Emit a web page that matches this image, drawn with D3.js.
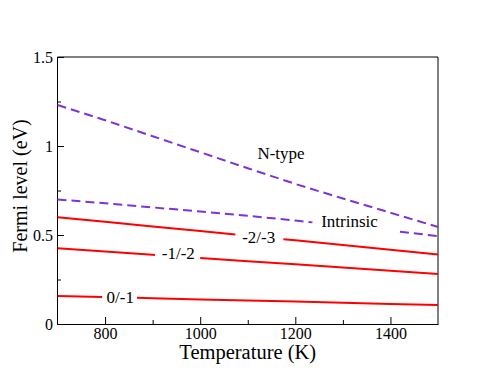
<!DOCTYPE html>
<html>
<head>
<meta charset="utf-8">
<script src="https://cdn.jsdelivr.net/npm/d3@7"></script>
<style>
  body { margin: 0; background: #fff; }
  svg text { font-family: "Liberation Serif", "Times New Roman", serif; fill: #000; }
</style>
</head>
<body>
<svg id="chart" width="494" height="382"></svg>
<script>
var temps = [700, 800, 900, 1000, 1100, 1200, 1300, 1400, 1500];

// Fermi level (eV)
var nType     = [1.23, 1.145, 1.055, 0.965, 0.875, 0.787, 0.705, 0.625, 0.545];
var intrinsic = [0.70, 0.678, 0.655, 0.632, 0.608, 0.581, 0.553, 0.524, 0.494];
// transition levels
var level23 = [0.600, 0.574, 0.548, 0.522, 0.496, 0.470, 0.444, 0.417, 0.390];
var level12 = [0.425, 0.407, 0.389, 0.371, 0.353, 0.335, 0.317, 0.299, 0.281];
var level01 = [0.157, 0.151, 0.145, 0.138, 0.132, 0.126, 0.120, 0.113, 0.107];

var seriesNames = ['N-type', 'Intrinsic', '-2/-3', '-1/-2', '0/-1'];
var seriesData  = [nType, intrinsic, level23, level12, level01];
var seriesDash  = [true, true, false, false, false];

// label placement (temperature, level of the text baseline) and break in the line
var labelTemp  = [1170, 1314, 1123, 954, 832];
var labelLevel = [0.927, 0.545, 0.457, 0.365, 0.12];
var gapFrom    = [null, 1236, 1074, 905, 794];
var gapTo      = [null, 1420, 1175, 1000, 867];

var xTicks = [800, 1000, 1200, 1400];
var xMinor = [900, 1100, 1300];
var yTicks = [0, 0.5, 1, 1.5];
var yMinor = [0.25, 0.75, 1.25];

var serif = '"Liberation Serif", "Times New Roman", serif';
var svg = d3.select('#chart');
var plotL = 57.5, plotR = 438, plotT = 57, plotB = 324;

var x = d3.scaleLinear().domain([700, 1500]).range([plotL, plotR]);
var y = d3.scaleLinear().domain([0, 1.5]).range([plotB, plotT]);

// frame: top and right edges
svg.append('line').attr('x1', plotL).attr('x2', plotR).attr('y1', plotT).attr('y2', plotT)
    .attr('stroke', '#000').attr('stroke-width', 1);
svg.append('line').attr('x1', plotR).attr('x2', plotR).attr('y1', plotT).attr('y2', plotB + 0.5)
    .attr('stroke', '#000').attr('stroke-width', 1);

// minor ticks first (no labels)
svg.append('g').attr('transform', 'translate(0,' + plotB + ')')
    .call(d3.axisBottom(x).tickValues(xMinor).tickSizeInner(-4).tickSizeOuter(0).tickFormat(''))
    .call(function(g) { g.select('.domain').remove(); });
svg.append('g').attr('transform', 'translate(' + (plotL - 0.5) + ',0)')
    .call(d3.axisLeft(y).tickValues(yMinor).tickSizeInner(-4).tickSizeOuter(0).tickFormat(''))
    .call(function(g) { g.select('.domain').remove(); });

var xAxis = svg.append('g').attr('transform', 'translate(0,' + plotB + ')')
    .call(d3.axisBottom(x).tickValues(xTicks).tickSizeInner(-7).tickSizeOuter(0).tickPadding(4)
        .tickFormat(d3.format('d')));
var yAxis = svg.append('g').attr('transform', 'translate(' + (plotL - 0.5) + ',0)')
    .call(d3.axisLeft(y).tickValues(yTicks).tickSizeInner(-7).tickSizeOuter(0).tickPadding(4)
        .tickFormat(d3.format('~g')));

[xAxis, yAxis].forEach(function(a) {
    a.attr('font-family', serif).attr('font-size', 16);
    a.selectAll('text').attr('fill', '#000');
    a.selectAll('line, path').attr('stroke', '#000');
});

// axis titles
svg.append('text')
    .attr('x', (plotL + plotR) / 2).attr('y', 359)
    .attr('text-anchor', 'middle')
    .attr('font-family', serif).attr('font-size', 20.5)
    .text('Temperature (K)');
svg.append('text')
    .attr('transform', 'translate(27,186) rotate(-90)')
    .attr('text-anchor', 'middle')
    .attr('font-family', serif).attr('font-size', 20)
    .text('Fermi level (eV)');

// curves
var line = d3.line().x(function(d) { return x(d[0]); }).y(function(d) { return y(d[1]); });

function valueAt(vals, t) {
    var i = d3.bisectRight(temps, t) - 1;
    i = Math.max(0, Math.min(i, temps.length - 2));
    var f = (t - temps[i]) / (temps[i + 1] - temps[i]);
    return vals[i] + f * (vals[i + 1] - vals[i]);
}

seriesData.forEach(function(vals, s) {
    var pts = temps.map(function(t, i) { return [t, vals[i]]; });
    var pieces = [pts];
    if (gapFrom[s] !== null) {
        var a = pts.filter(function(p) { return p[0] < gapFrom[s]; });
        a.push([gapFrom[s], valueAt(vals, gapFrom[s])]);
        var b = [[gapTo[s], valueAt(vals, gapTo[s])]].concat(pts.filter(function(p) { return p[0] > gapTo[s]; }));
        pieces = [a, b];
    }
    pieces.forEach(function(p) {
        svg.append('path')
            .attr('d', line(p))
            .attr('fill', 'none')
            .attr('stroke', seriesDash[s] ? '#7e33d6' : '#ff0000')
            .attr('stroke-width', 2)
            .attr('stroke-dasharray', seriesDash[s] ? '9,5' : null);
    });
    svg.append('text')
        .attr('x', x(labelTemp[s])).attr('y', y(labelLevel[s]))
        .attr('text-anchor', 'middle')
        .attr('font-family', serif).attr('font-size', 17)
        .text(seriesNames[s]);
});
</script>
</body>
</html>
